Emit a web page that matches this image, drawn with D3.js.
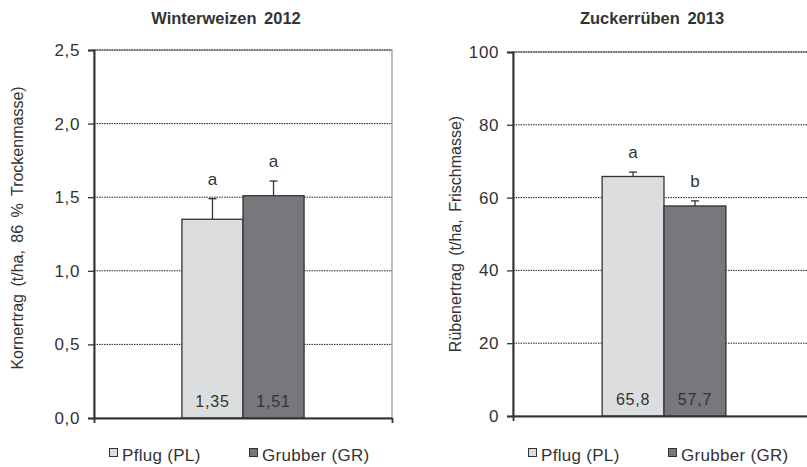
<!DOCTYPE html>
<html>
<head>
<meta charset="utf-8">
<script src="https://cdn.jsdelivr.net/npm/d3@7"></script>
<style>
  body { margin: 0; background: #fff; }
  text { font-family: "Liberation Sans", Arial, sans-serif; fill: #333; }
</style>
</head>
<body>
<script>
// data
var titles = ["Winterweizen 2012", "Zuckerrüben 2013"];
var yTitles = ["Kornertrag (t/ha, 86 % Trockenmasse)", "Rübenertrag (t/ha, Frischmasse)"];
var series = ["Pflug (PL)", "Grubber (GR)"];
var pflug = [1.35, 65.8];
var grubber = [1.51, 57.7];
var errPflug = [0.14, 1.2];
var errGrubber = [0.10, 1.4];
var letterPflug = ["a", "a"];
var letterGrubber = ["a", "b"];
var yMax = [2.5, 100];
var yStep = [0.5, 20];
var valueLabels = [["1,35", "1,51"], ["65,8", "57,7"]];

var colors = ["#dcdddf", "#77787b"];

var svg = d3.select("body").append("svg")
    .attr("width", 807)
    .attr("height", 467);

var panels = [
  {left: 94, width: 298, top: 50, bottom: 418, titleX: 226, yTitleX: 23, yTitleY: 228},
  {left: 513, width: 302, top: 52, bottom: 416, titleX: 652, yTitleX: 461, yTitleY: 234}
];

var fmt = function(d, i) {
  return i == 0 ? d3.format(".1f")(d).replace(".", ",") : d3.format("d")(d);
};

panels.forEach(function(p, i) {
  var g = svg.append("g");

  var y = d3.scaleLinear()
    .domain([0, yMax[i]])
    .range([p.bottom, p.top]);

  var xCat = d3.scaleBand()
    .domain([titles[i]])
    .range([p.left, p.left + p.width])
    .paddingOuter(0.72);
  var xSer = d3.scaleBand()
    .domain(series)
    .range([xCat(titles[i]), xCat(titles[i]) + xCat.bandwidth()]);

  var ticks = d3.range(0, yMax[i] + yStep[i] / 2, yStep[i]);

  // plot border (gray)
  g.append("rect")
    .attr("x", p.left)
    .attr("y", p.top)
    .attr("width", p.width)
    .attr("height", p.bottom - p.top)
    .attr("fill", "none")
    .attr("stroke", "#a8a8a8")
    .attr("stroke-width", 1.5);

  // gridlines
  g.selectAll(".grid")
    .data(ticks.slice(1))
    .enter().append("line")
    .attr("x1", p.left)
    .attr("x2", p.left + p.width)
    .attr("y1", function(d) { return y(d); })
    .attr("y2", function(d) { return y(d); })
    .attr("stroke", "#222")
    .attr("stroke-width", 1)
    .attr("stroke-dasharray", "1.5,1");

  var vals = [pflug[i], grubber[i]];
  var errs = [errPflug[i], errGrubber[i]];
  var letters = [letterPflug[i], letterGrubber[i]];

  // bars
  g.selectAll(".bar")
    .data(series)
    .enter().append("rect")
    .attr("x", function(d) { return xSer(d); })
    .attr("y", function(d, j) { return y(vals[j]); })
    .attr("width", xSer.bandwidth())
    .attr("height", function(d, j) { return y(0) - y(vals[j]); })
    .attr("fill", function(d, j) { return colors[j]; })
    .attr("stroke", "#333")
    .attr("stroke-width", 1.3);

  // error bars (upper only)
  series.forEach(function(s, j) {
    var cx = xSer(s) + xSer.bandwidth() / 2;
    g.append("line")
      .attr("x1", cx).attr("x2", cx)
      .attr("y1", y(vals[j])).attr("y2", y(vals[j] + errs[j]))
      .attr("stroke", "#333").attr("stroke-width", 1.3);
    g.append("line")
      .attr("x1", cx - 4).attr("x2", cx + 4)
      .attr("y1", y(vals[j] + errs[j])).attr("y2", y(vals[j] + errs[j]))
      .attr("stroke", "#333").attr("stroke-width", 1.3);
    g.append("text")
      .attr("x", cx)
      .attr("y", y(vals[j] + errs[j]) - 14)
      .attr("text-anchor", "middle")
      .style("font-size", "17px")
      .text(letters[j]);
    g.append("text")
      .attr("x", cx)
      .attr("y", y(0) - 11)
      .attr("text-anchor", "middle")
      .style("font-size", "16px")
      .style("letter-spacing", "0.8px")
      .text(valueLabels[i][j]);
  });

  // Y axis
  var yAxis = g.append("g")
    .attr("transform", "translate(" + p.left + ",0)")
    .call(d3.axisLeft(y).tickValues(ticks).tickSize(6).tickPadding(8)
      .tickFormat(function(d) { return fmt(d, i); }));
  yAxis.select(".domain").attr("stroke", "#333").attr("stroke-width", 2);
  yAxis.selectAll(".tick line").attr("stroke", "#333").attr("stroke-width", 1.3);
  yAxis.selectAll(".tick text")
    .style("font-size", "17px")
    .style("letter-spacing", "0.6px")
    .attr("fill", "#333")
    .style("font-family", '"Liberation Sans", Arial, sans-serif');

  // X axis (category boundaries only)
  var xAxis = g.append("g")
    .attr("transform", "translate(0," + p.bottom + ")")
    .call(d3.axisBottom(d3.scaleLinear().domain([0, 1]).range([p.left, p.left + p.width]))
      .tickValues([0, 1]).tickSize(5).tickSizeOuter(0).tickFormat(""));
  xAxis.select(".domain").attr("stroke", "#333").attr("stroke-width", 1.8);
  xAxis.selectAll(".tick line").attr("stroke", "#333").attr("stroke-width", 1.8);

  // titles
  svg.append("text")
    .attr("x", p.titleX)
    .attr("y", 24)
    .attr("text-anchor", "middle")
    .style("font-size", "16.5px")
    .style("font-weight", "bold")
    .style("word-spacing", "3px")
    .attr("fill", "#222")
    .text(titles[i]);

  svg.append("text")
    .attr("transform", "translate(" + p.yTitleX + "," + p.yTitleY + ") rotate(-90)")
    .attr("text-anchor", "middle")
    .style("font-size", "16px")
    .style("word-spacing", "3px")
    .text(yTitles[i]);

  // legend
  var lx = [p.left + 15, p.left + 155];
  series.forEach(function(s, j) {
    svg.append("rect")
      .attr("x", lx[j] + 0.5)
      .attr("y", 448.5)
      .attr("width", 8)
      .attr("height", 8)
      .attr("fill", colors[j])
      .attr("stroke", "#333")
      .attr("stroke-width", 1);
    svg.append("text")
      .attr("x", lx[j] + 13)
      .attr("y", 461)
      .style("font-size", "17px")
      .style("letter-spacing", "0.3px")
      .text(s);
  });
});
</script>
</body>
</html>
